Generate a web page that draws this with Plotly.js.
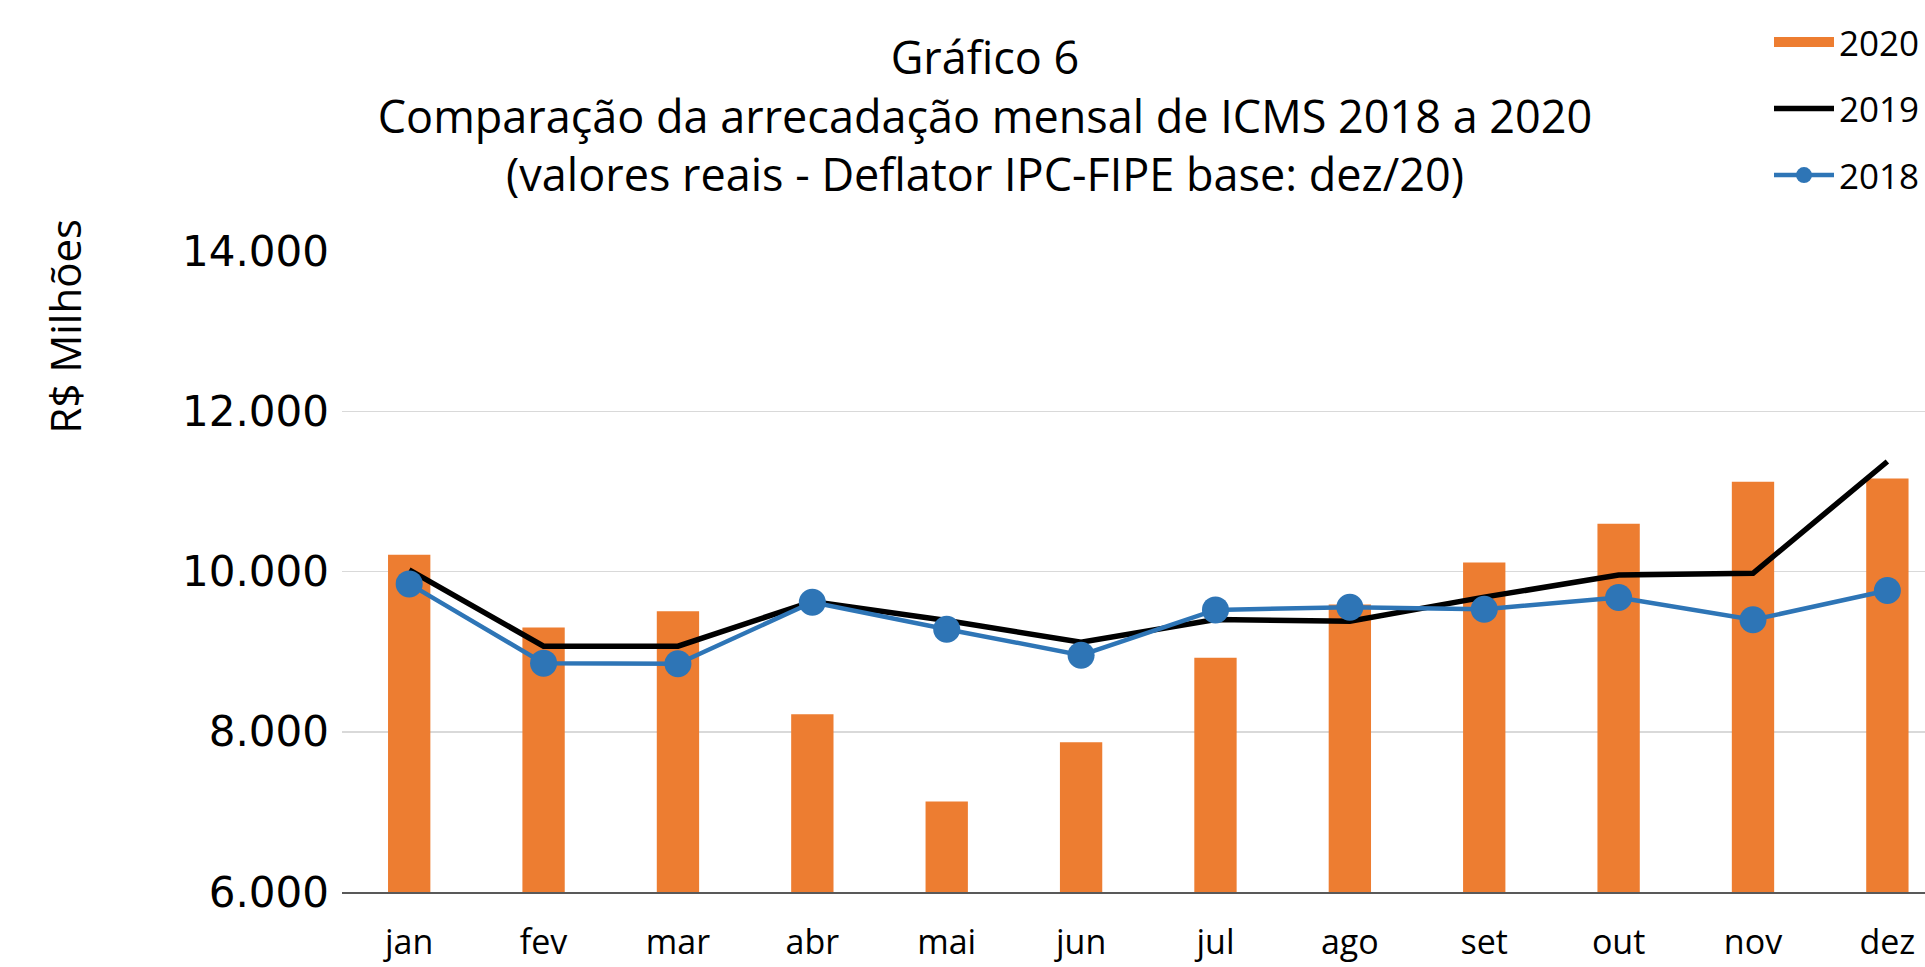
<!DOCTYPE html>
<html>
<head>
<meta charset="utf-8">
<script src="https://cdn.plot.ly/plotly-3.0.1.min.js"></script>
<style>
  html, body { margin: 0; padding: 0; background: #ffffff; }
  #chart { width: 1925px; height: 967px; }
</style>
</head>
<body>
<div id="chart"></div>
<script>
// ---- data (R$ milhões) ----
const months = ["jan", "fev", "mar", "abr", "mai", "jun", "jul", "ago", "set", "out", "nov", "dez"];
const values2020 = [10210, 9301, 9504, 8217, 7129, 7868, 8923, 9588, 10111, 10597, 11120, 11162];
const values2019 = [10020, 9068, 9068, 9625, 9388, 9118, 9401, 9380, 9680, 9955, 9978, 11373];
const values2018 = [9845, 8856, 8849, 9616, 9280, 8956, 9521, 9554, 9529, 9675, 9397, 9762];
const yTicks = [6000, 8000, 10000, 12000, 14000];
const yTickLabels = ["6.000", "8.000", "10.000", "12.000", "14.000"];

const textFont = "Open Sans, Lato, sans-serif";
const orange = "#ED7D31";

const traces = [
  {
    type: "bar", name: "2020", x: months, y: values2020,
    marker: { color: orange }, width: 0.315,
    legendgroup: "g2020", showlegend: false
  },
  {
    // legend swatch for the 2020 bars (wide rectangle, as in the reference)
    type: "scatter", mode: "lines", name: "2020", x: [null], y: [null],
    line: { color: orange, width: 15 },
    legendgroup: "g2020", hoverinfo: "skip"
  },
  {
    type: "scatter", mode: "lines", name: "2019", x: months, y: values2019,
    line: { color: "#000000", width: 5.5 },
    legendgroup: "g2019"
  },
  {
    type: "scatter", mode: "lines+markers", name: "2018", x: months, y: values2018,
    line: { color: "#2E75B6", width: 4.5 },
    marker: { color: "#2E75B6", size: 27 },
    legendgroup: "g2018"
  }
];

const layout = {
  width: 1925, height: 967,
  margin: { l: 342, r: 0, t: 250.5, b: 74.5, pad: 0 },
  paper_bgcolor: "#ffffff", plot_bgcolor: "#ffffff",
  showlegend: true,
  title: {
    text: "Gráfico 6<br>Comparação da arrecadação mensal de ICMS 2018 a 2020<br>(valores reais - Deflator IPC-FIPE base: dez/20)",
    font: { family: textFont, size: 45, color: "#000000" },
    xref: "container", yref: "container",
    x: 985 / 1925, xanchor: "center",
    y: 1 - 74 / 967, yanchor: "top"
  },
  xaxis: {
    type: "category",
    range: [-0.5, 11.28],
    showgrid: false,
    showline: true, linecolor: "#595959", linewidth: 2,
    ticks: "", ticklabelstandoff: 19,
    tickfont: { family: textFont, size: 34, color: "#000000" },
    fixedrange: true
  },
  yaxis: {
    range: [6000, 14000],
    tickvals: yTicks, ticktext: yTickLabels,
    showgrid: true, gridcolor: "#D9D9D9", gridwidth: 1.5,
    zeroline: false, showline: false,
    ticks: "", ticklabelstandoff: 12,
    tickfont: { family: "DejaVu Sans, Verdana, sans-serif", size: 42, color: "#000000" },
    fixedrange: true
  },
  legend: {
    x: 1, xanchor: "right", xref: "paper",
    y: 1 + (250.5 - 12) / 642, yanchor: "top", yref: "paper",
    font: { family: textFont, size: 35, color: "#000000" },
    tracegroupgap: 18,
    itemwidth: 60,
    bgcolor: "rgba(0,0,0,0)"
  },
  annotations: [
    {
      text: "R$ Milhões", textangle: -90,
      xref: "paper", yref: "paper",
      x: (64 - 342) / 1583, y: (892.5 - 326) / 642,
      xanchor: "center", yanchor: "middle",
      showarrow: false,
      font: { family: textFont, size: 42, color: "#000000" }
    }
  ]
};

Plotly.newPlot("chart", traces, layout, { displayModeBar: false, staticPlot: true });
</script>
</body>
</html>
